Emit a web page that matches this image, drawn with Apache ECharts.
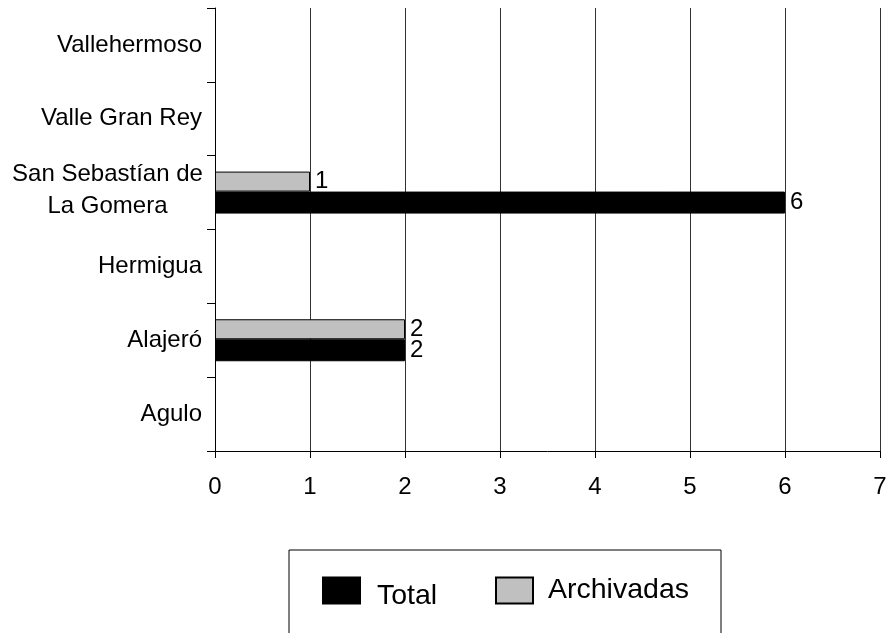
<!DOCTYPE html>
<html>
<head>
<meta charset="utf-8">
<script src="https://cdn.jsdelivr.net/npm/echarts@6/dist/echarts.min.js"></script>
<style>
  html, body { margin: 0; padding: 0; background: #fff; }
  #chart { width: 890px; height: 633px; }
</style>
</head>
<body>
<div id="chart"></div>
<script>
// Municipios, listed from the bottom of the axis upward
const municipios = ['Agulo', 'Alajeró', 'Hermigua', 'San Sebastían de\nLa Gomera', 'Valle Gran Rey', 'Vallehermoso'];
const total = [0, 2, 0, 6, 0, 0];
const archivadas = [0, 2, 0, 1, 0, 0];
const xTicks = [0, 1, 2, 3, 4, 5, 6, 7];

const FONT = '"Liberation Sans", Arial, sans-serif';

// zero counts get no bar at all (not even a border sliver)
const asBars = arr => arr.map(v => (v === 0 ? '-' : v));

const chart = echarts.init(document.getElementById('chart'), null, { renderer: 'canvas' });

const valueLabel = {
  show: true,
  position: 'right',
  distance: 5,
  color: '#000',
  fontFamily: FONT,
  fontSize: 24,
  formatter: p => String(p.value)
};

chart.setOption({
  animation: false,
  backgroundColor: '#fff',
  grid: { left: 215, right: 10, top: 8, bottom: 182, containLabel: false },
  xAxis: {
    type: 'value',
    min: xTicks[0],
    max: xTicks[xTicks.length - 1],
    interval: 1,
    axisLine: { show: true, lineStyle: { color: '#000', width: 1 } },
    axisTick: { show: true, length: 7, lineStyle: { color: '#000' } },
    axisLabel: { color: '#000', fontFamily: FONT, fontSize: 24, margin: 24 },
    splitLine: { show: true, lineStyle: { color: '#333', width: 1 } }
  },
  yAxis: {
    type: 'category',
    data: municipios,
    axisLine: { show: true, lineStyle: { color: '#000', width: 1 } },
    axisTick: { show: true, length: 8, alignWithLabel: false, lineStyle: { color: '#000' } },
    axisLabel: {
      color: '#000',
      fontFamily: FONT,
      fontSize: 24,
      margin: 13,
      lineHeight: 32,
      formatter: v => (v.indexOf('\n') >= 0 ? '{c|' + v + '}' : v),
      rich: {
        c: { fontFamily: FONT, fontSize: 24, lineHeight: 32, width: 189, align: 'center', color: '#000', padding: [0, 0, 5, 0] }
      }
    },
    splitLine: { show: false }
  },
  legend: [
    {
      data: ['Total'],
      left: 322,
      top: 570,
      padding: 0,
      itemWidth: 37,
      itemHeight: 26,
      icon: 'rect',
      formatter: n => '{t|' + n + '}',
      textStyle: {
        rich: { t: { fontFamily: FONT, fontSize: 28.5, lineHeight: 26, color: '#000', padding: [12, 0, 0, 12] } }
      }
    },
    {
      data: ['Archivadas'],
      left: 495,
      top: 576,
      padding: 0,
      itemWidth: 37,
      itemHeight: 26,
      icon: 'rect',
      formatter: n => '{t|' + n + '}',
      textStyle: {
        rich: { t: { fontFamily: FONT, fontSize: 28.5, lineHeight: 26, color: '#000', padding: [0, 0, 0, 10] } }
      }
    }
  ],
  graphic: [
    {
      type: 'rect',
      shape: { x: 289, y: 550, width: 432, height: 120 },
      style: { fill: 'none', stroke: '#000', lineWidth: 1 },
      silent: true,
      z: 0
    }
  ],
  series: [
    {
      name: 'Archivadas',
      type: 'bar',
      data: asBars(archivadas),
      barWidth: 20,
      barGap: '0%',
      barCategoryGap: '42%',
      itemStyle: { color: '#c0c0c0', borderColor: '#000', borderWidth: 1 },
      label: valueLabel
    },
    {
      name: 'Total',
      type: 'bar',
      data: asBars(total),
      barWidth: 22,
      barGap: '0%',
      itemStyle: { color: '#000', borderColor: '#000', borderWidth: 1 },
      label: valueLabel
    }
  ]
});
</script>
</body>
</html>
